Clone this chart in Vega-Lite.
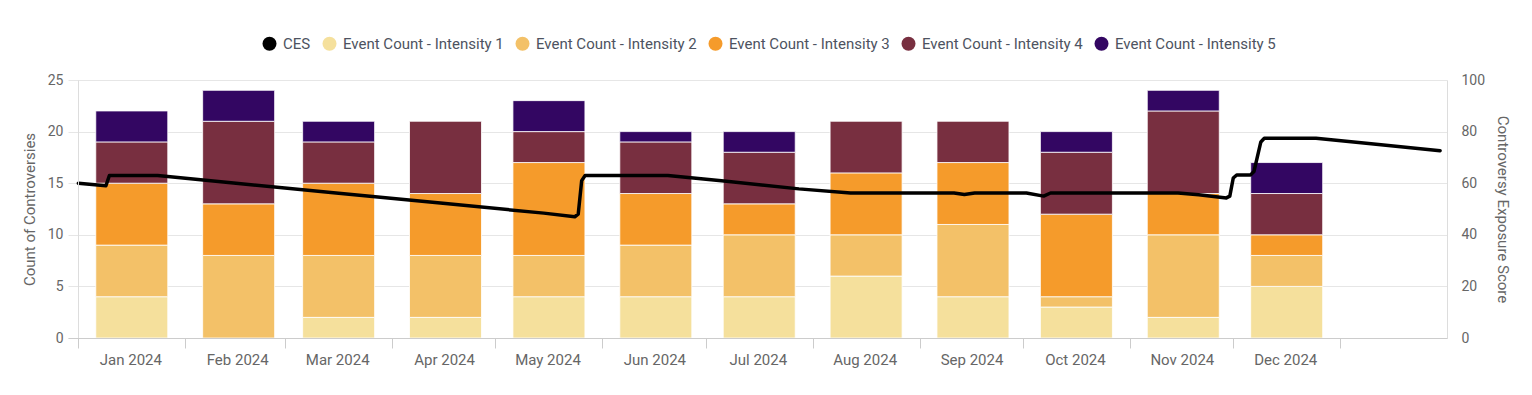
{
  "$schema": "https://vega.github.io/schema/vega-lite/v6.json",
  "width": 1379,
  "height": 258,
  "autosize": {"type": "none"},
  "padding": {"left": 68, "top": 80, "right": 85, "bottom": 57},
  "background": "#ffffff",
  "config": {
    "font": "Roboto",
    "view": {"stroke": null},
    "axis": {"labelFont": "Roboto", "titleFont": "Roboto", "titleFontWeight": "normal"},
    "legend": {"labelFont": "Roboto"}
  },
  "datasets": {
    "events": [
      {"date": "2024-01-16T12:00:00Z", "series": "Event Count - Intensity 1", "count": 4},
      {"date": "2024-01-16T12:00:00Z", "series": "Event Count - Intensity 2", "count": 5},
      {"date": "2024-01-16T12:00:00Z", "series": "Event Count - Intensity 3", "count": 6},
      {"date": "2024-01-16T12:00:00Z", "series": "Event Count - Intensity 4", "count": 4},
      {"date": "2024-01-16T12:00:00Z", "series": "Event Count - Intensity 5", "count": 3},
      {"date": "2024-02-16T12:00:00Z", "series": "Event Count - Intensity 2", "count": 8},
      {"date": "2024-02-16T12:00:00Z", "series": "Event Count - Intensity 3", "count": 5},
      {"date": "2024-02-16T12:00:00Z", "series": "Event Count - Intensity 4", "count": 8},
      {"date": "2024-02-16T12:00:00Z", "series": "Event Count - Intensity 5", "count": 3},
      {"date": "2024-03-16T12:00:00Z", "series": "Event Count - Intensity 1", "count": 2},
      {"date": "2024-03-16T12:00:00Z", "series": "Event Count - Intensity 2", "count": 6},
      {"date": "2024-03-16T12:00:00Z", "series": "Event Count - Intensity 3", "count": 7},
      {"date": "2024-03-16T12:00:00Z", "series": "Event Count - Intensity 4", "count": 4},
      {"date": "2024-03-16T12:00:00Z", "series": "Event Count - Intensity 5", "count": 2},
      {"date": "2024-04-16T12:00:00Z", "series": "Event Count - Intensity 1", "count": 2},
      {"date": "2024-04-16T12:00:00Z", "series": "Event Count - Intensity 2", "count": 6},
      {"date": "2024-04-16T12:00:00Z", "series": "Event Count - Intensity 3", "count": 6},
      {"date": "2024-04-16T12:00:00Z", "series": "Event Count - Intensity 4", "count": 7},
      {"date": "2024-05-16T12:00:00Z", "series": "Event Count - Intensity 1", "count": 4},
      {"date": "2024-05-16T12:00:00Z", "series": "Event Count - Intensity 2", "count": 4},
      {"date": "2024-05-16T12:00:00Z", "series": "Event Count - Intensity 3", "count": 9},
      {"date": "2024-05-16T12:00:00Z", "series": "Event Count - Intensity 4", "count": 3},
      {"date": "2024-05-16T12:00:00Z", "series": "Event Count - Intensity 5", "count": 3},
      {"date": "2024-06-16T12:00:00Z", "series": "Event Count - Intensity 1", "count": 4},
      {"date": "2024-06-16T12:00:00Z", "series": "Event Count - Intensity 2", "count": 5},
      {"date": "2024-06-16T12:00:00Z", "series": "Event Count - Intensity 3", "count": 5},
      {"date": "2024-06-16T12:00:00Z", "series": "Event Count - Intensity 4", "count": 5},
      {"date": "2024-06-16T12:00:00Z", "series": "Event Count - Intensity 5", "count": 1},
      {"date": "2024-07-16T12:00:00Z", "series": "Event Count - Intensity 1", "count": 4},
      {"date": "2024-07-16T12:00:00Z", "series": "Event Count - Intensity 2", "count": 6},
      {"date": "2024-07-16T12:00:00Z", "series": "Event Count - Intensity 3", "count": 3},
      {"date": "2024-07-16T12:00:00Z", "series": "Event Count - Intensity 4", "count": 5},
      {"date": "2024-07-16T12:00:00Z", "series": "Event Count - Intensity 5", "count": 2},
      {"date": "2024-08-16T12:00:00Z", "series": "Event Count - Intensity 1", "count": 6},
      {"date": "2024-08-16T12:00:00Z", "series": "Event Count - Intensity 2", "count": 4},
      {"date": "2024-08-16T12:00:00Z", "series": "Event Count - Intensity 3", "count": 6},
      {"date": "2024-08-16T12:00:00Z", "series": "Event Count - Intensity 4", "count": 5},
      {"date": "2024-09-16T12:00:00Z", "series": "Event Count - Intensity 1", "count": 4},
      {"date": "2024-09-16T12:00:00Z", "series": "Event Count - Intensity 2", "count": 7},
      {"date": "2024-09-16T12:00:00Z", "series": "Event Count - Intensity 3", "count": 6},
      {"date": "2024-09-16T12:00:00Z", "series": "Event Count - Intensity 4", "count": 4},
      {"date": "2024-10-16T12:00:00Z", "series": "Event Count - Intensity 1", "count": 3},
      {"date": "2024-10-16T12:00:00Z", "series": "Event Count - Intensity 2", "count": 1},
      {"date": "2024-10-16T12:00:00Z", "series": "Event Count - Intensity 3", "count": 8},
      {"date": "2024-10-16T12:00:00Z", "series": "Event Count - Intensity 4", "count": 6},
      {"date": "2024-10-16T12:00:00Z", "series": "Event Count - Intensity 5", "count": 2},
      {"date": "2024-11-16T12:00:00Z", "series": "Event Count - Intensity 1", "count": 2},
      {"date": "2024-11-16T12:00:00Z", "series": "Event Count - Intensity 2", "count": 8},
      {"date": "2024-11-16T12:00:00Z", "series": "Event Count - Intensity 3", "count": 4},
      {"date": "2024-11-16T12:00:00Z", "series": "Event Count - Intensity 4", "count": 8},
      {"date": "2024-11-16T12:00:00Z", "series": "Event Count - Intensity 5", "count": 2},
      {"date": "2024-12-16T12:00:00Z", "series": "Event Count - Intensity 1", "count": 5},
      {"date": "2024-12-16T12:00:00Z", "series": "Event Count - Intensity 2", "count": 3},
      {"date": "2024-12-16T12:00:00Z", "series": "Event Count - Intensity 3", "count": 2},
      {"date": "2024-12-16T12:00:00Z", "series": "Event Count - Intensity 4", "count": 4},
      {"date": "2024-12-16T12:00:00Z", "series": "Event Count - Intensity 5", "count": 3}
    ],
    "ces": [
      {"date": "2024-01-01", "series": "CES", "ces": 60.0},
      {"date": "2024-01-09", "series": "CES", "ces": 59.0},
      {"date": "2024-01-10", "series": "CES", "ces": 63.0},
      {"date": "2024-01-24", "series": "CES", "ces": 63.0},
      {"date": "2024-02-15", "series": "CES", "ces": 60.1},
      {"date": "2024-03-15", "series": "CES", "ces": 56.3},
      {"date": "2024-04-15", "series": "CES", "ces": 52.3},
      {"date": "2024-05-15", "series": "CES", "ces": 48.4},
      {"date": "2024-05-24", "series": "CES", "ces": 47.0},
      {"date": "2024-05-25", "series": "CES", "ces": 48.0},
      {"date": "2024-05-26", "series": "CES", "ces": 61.0},
      {"date": "2024-05-27", "series": "CES", "ces": 63.0},
      {"date": "2024-06-20", "series": "CES", "ces": 63.0},
      {"date": "2024-07-07", "series": "CES", "ces": 60.8},
      {"date": "2024-07-28", "series": "CES", "ces": 57.8},
      {"date": "2024-08-12", "series": "CES", "ces": 56.2},
      {"date": "2024-09-11", "series": "CES", "ces": 56.2},
      {"date": "2024-09-14", "series": "CES", "ces": 55.6},
      {"date": "2024-09-17", "series": "CES", "ces": 56.2},
      {"date": "2024-10-02", "series": "CES", "ces": 56.2},
      {"date": "2024-10-07", "series": "CES", "ces": 55.0},
      {"date": "2024-10-09", "series": "CES", "ces": 56.2},
      {"date": "2024-11-15", "series": "CES", "ces": 56.2},
      {"date": "2024-11-21", "series": "CES", "ces": 55.5},
      {"date": "2024-11-29", "series": "CES", "ces": 54.3},
      {"date": "2024-11-30", "series": "CES", "ces": 55.0},
      {"date": "2024-12-01", "series": "CES", "ces": 62.0},
      {"date": "2024-12-02", "series": "CES", "ces": 63.2},
      {"date": "2024-12-06", "series": "CES", "ces": 63.2},
      {"date": "2024-12-07", "series": "CES", "ces": 64.5},
      {"date": "2024-12-09", "series": "CES", "ces": 76.0},
      {"date": "2024-12-10", "series": "CES", "ces": 77.4},
      {"date": "2024-12-25", "series": "CES", "ces": 77.4},
      {"date": "2025-01-10", "series": "CES", "ces": 75.3},
      {"date": "2025-01-30", "series": "CES", "ces": 72.6}
    ]
  },
  "layer": [
    {
      "data": {"name": "events"},
      "mark": {"type": "bar", "size": 72, "stroke": "#ffffff", "strokeWidth": 0.8},
      "encoding": {
        "x": {
          "field": "date",
          "type": "temporal",
          "scale": {
            "type": "utc",
            "nice": false,
            "padding": 0,
            "domain": [
              {"year": 2023, "month": 12, "date": 29, "utc": true},
              {"year": 2025, "month": 2, "date": 1, "utc": true}
            ]
          },
          "axis": {
            "title": null,
            "values": [
              {"year": 2024, "month": 1, "date": 1, "utc": true},
              {"year": 2024, "month": 2, "date": 1, "utc": true},
              {"year": 2024, "month": 3, "date": 1, "utc": true},
              {"year": 2024, "month": 4, "date": 1, "utc": true},
              {"year": 2024, "month": 5, "date": 1, "utc": true},
              {"year": 2024, "month": 6, "date": 1, "utc": true},
              {"year": 2024, "month": 7, "date": 1, "utc": true},
              {"year": 2024, "month": 8, "date": 1, "utc": true},
              {"year": 2024, "month": 9, "date": 1, "utc": true},
              {"year": 2024, "month": 10, "date": 1, "utc": true},
              {"year": 2024, "month": 11, "date": 1, "utc": true},
              {"year": 2024, "month": 12, "date": 1, "utc": true},
              {"year": 2025, "month": 1, "date": 1, "utc": true}
            ],
            "labelExpr": "utcyear(datum.value) > 2024 ? '' : utcFormat(datum.value, '%b %Y')",
            "labelOffset": 52,
            "labelFlush": false,
            "labelOverlap": false,
            "labelBound": false,
            "labelFontSize": 15,
            "labelColor": "#666666",
            "labelPadding": 4,
            "tickSize": 10,
            "tickColor": "#cccccc",
            "domainColor": "#cccccc",
            "grid": true,
            "gridColor": "#dddddd",
            "gridOpacity": {"condition": {"test": "utcyear(datum.value) == 2024 && utcmonth(datum.value) == 0", "value": 1}, "value": 0},
            "zindex": 1
          }
        },
        "y": {
          "field": "count",
          "type": "quantitative",
          "stack": "zero",
          "scale": {"domain": [0, 25], "nice": false},
          "axis": {
            "title": "Count of Controversies",
            "titleFontSize": 15,
            "titleColor": "#666666",
            "titlePadding": 10,
            "values": [0, 5, 10, 15, 20, 25],
            "labelFontSize": 14,
            "labelColor": "#666666",
            "labelPadding": 5,
            "ticks": false,
            "domain": false,
            "grid": true,
            "gridColor": "#e6e6e6"
          }
        },
        "color": {
          "field": "series",
          "type": "nominal",
          "scale": {
            "domain": ["CES", "Event Count - Intensity 1", "Event Count - Intensity 2", "Event Count - Intensity 3", "Event Count - Intensity 4", "Event Count - Intensity 5"],
            "range": ["#000000", "#F5E09C", "#F3C168", "#F59B2B", "#782F40", "#330662"]
          },
          "legend": {
            "orient": "none",
            "legendX": 194,
            "legendY": -44,
            "direction": "horizontal",
            "title": null,
            "padding": 0,
            "symbolType": "circle",
            "symbolSize": 196,
            "symbolStrokeWidth": 0,
            "symbolOpacity": 1,
            "labelFontSize": 15,
            "labelLimit": 0,
            "labelColor": "#4d5361",
            "labelOffset": 6,
            "columnPadding": 11,
            "encode": {
              "symbols": {"update": {"fill": {"scale": "color", "field": "value"}, "stroke": {"value": "transparent"}, "opacity": {"value": 1}}}
            }
          }
        },
        "order": {"field": "series", "sort": "ascending"}
      }
    },
    {
      "data": {"name": "ces"},
      "mark": {"type": "line", "strokeWidth": 3.5, "strokeJoin": "round", "strokeCap": "round"},
      "encoding": {
        "x": {"field": "date", "type": "temporal"},
        "y": {
          "field": "ces",
          "type": "quantitative",
          "scale": {"domain": [0, 100], "nice": false},
          "axis": {
            "orient": "right",
            "title": "Controversy Exposure Score",
            "titleFontSize": 15,
            "titleColor": "#666666",
            "titlePadding": 10,
            "values": [0, 20, 40, 60, 80, 100],
            "labelFontSize": 14,
            "labelColor": "#666666",
            "labelPadding": 14,
            "ticks": false,
            "domain": true,
            "domainColor": "#dddddd",
            "grid": false
          }
        },
        "color": {"field": "series", "type": "nominal"}
      }
    }
  ],
  "resolve": {"scale": {"y": "independent"}, "axis": {"y": "independent"}}
}
